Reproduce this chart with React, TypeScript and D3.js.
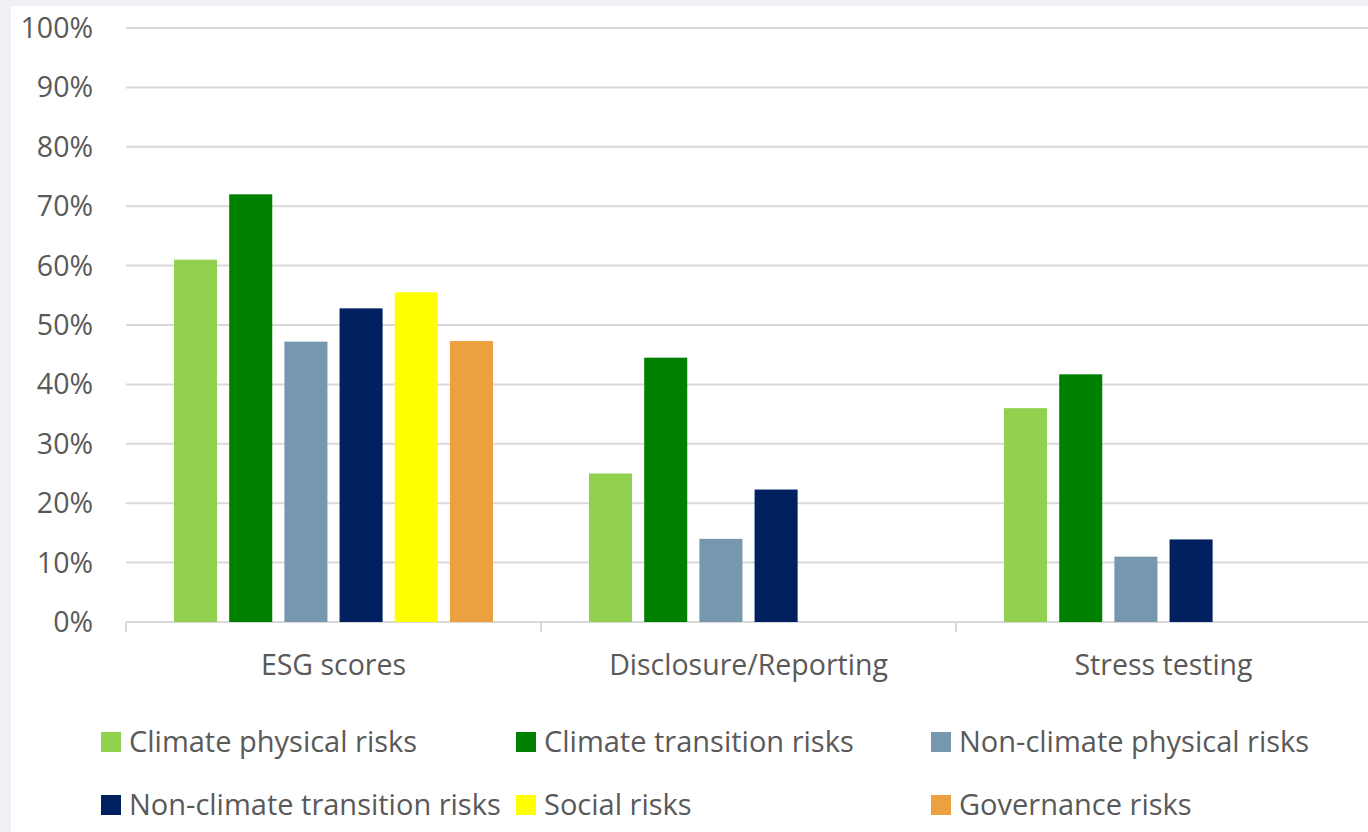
import React from "react";
import * as d3 from "d3";

const categories = ["ESG scores", "Disclosure/Reporting", "Stress testing"];
const seriesNames = [
  "Climate physical risks",
  "Climate transition risks",
  "Non-climate physical risks",
  "Non-climate transition risks",
  "Social risks",
  "Governance risks",
];
const seriesColors = ["#92D050", "#008000", "#7598AE", "#002060", "#FFFF00", "#EDA040"];
// values per series, in category order (null = no bar)
const climatePhysical = [61, 25, 36];
const climateTransition = [72, 44.5, 41.7];
const nonClimatePhysical = [47.2, 14, 11];
const nonClimateTransition = [52.8, 22.3, 13.9];
const socialRisks = [55.5, null, null];
const governanceRisks = [47.3, null, null];
const seriesValues = [
  climatePhysical,
  climateTransition,
  nonClimatePhysical,
  nonClimateTransition,
  socialRisks,
  governanceRisks,
];
const yTicks = [0, 10, 20, 30, 40, 50, 60, 70, 80, 90, 100];

const W = 1368;
const H = 832;
const FONT = "'Open Sans', sans-serif";
const TEXT = "#595959";
const FS = 28.5;

const App = () => {
  const plotLeft = 126;
  const plotRight = 1371;
  const yTop = 28;
  const yBottom = 622;

  const x = d3.scaleBand().domain(categories).range([plotLeft, plotRight]).padding(0);
  const xInner = d3
    .scaleBand()
    .domain(seriesNames)
    .range([0, x.bandwidth()])
    .paddingInner(0.22)
    .paddingOuter(0.87);
  const y = d3.scaleLinear().domain([0, 100]).range([yBottom, yTop]);

  const legendCols = [101, 516, 931];
  const legendRows = [742, 805];

  return (
    <div style={{ position: "absolute", left: 0, top: 0, width: W, height: H, background: "#F0F0F5" }}>
      <svg width={W} height={H} style={{ display: "block" }}>
        <rect x={11} y={6} width={W - 11} height={H - 6} fill="#FFFFFF" />
        {yTicks.map((t) => (
          <g key={t}>
            <line
              x1={plotLeft}
              x2={W}
              y1={y(t)}
              y2={y(t)}
              stroke="#D9D9D9"
              strokeWidth={2}
            />
            <text
              x={93}
              y={y(t)}
              dy="0.35em"
              textAnchor="end"
              fontFamily={FONT}
              fontSize={FS}
              fill={TEXT}
            >
              {t}%
            </text>
          </g>
        ))}
        {categories.map((c) => (
          <g key={c}>
            <line
              x1={x(c)!}
              x2={x(c)!}
              y1={yBottom}
              y2={yBottom + 10}
              stroke="#D9D9D9"
              strokeWidth={2}
            />
            <text
              x={x(c)! + x.bandwidth() / 2}
              y={665}
              dy="0.35em"
              textAnchor="middle"
              fontFamily={FONT}
              fontSize={FS}
              fill={TEXT}
            >
              {c}
            </text>
          </g>
        ))}
        {seriesNames.map((s, si) =>
          categories.map((c, ci) => {
            const v = seriesValues[si][ci];
            if (v == null) return null;
            return (
              <rect
                key={s + c}
                x={x(c)! + xInner(s)!}
                y={y(v)}
                width={xInner.bandwidth()}
                height={yBottom - y(v)}
                fill={seriesColors[si]}
              />
            );
          })
        )}
        {seriesNames.map((s, i) => {
          const lx = legendCols[i % 3];
          const ly = legendRows[Math.floor(i / 3)];
          return (
            <g key={s}>
              <rect x={lx} y={ly - 10} width={20} height={20} fill={seriesColors[i]} />
              <text
                x={lx + 28}
                y={ly}
                dy="0.35em"
                fontFamily={FONT}
                fontSize={29}
                fill={TEXT}
              >
                {s}
              </text>
            </g>
          );
        })}
      </svg>
    </div>
  );
};

export default App;
